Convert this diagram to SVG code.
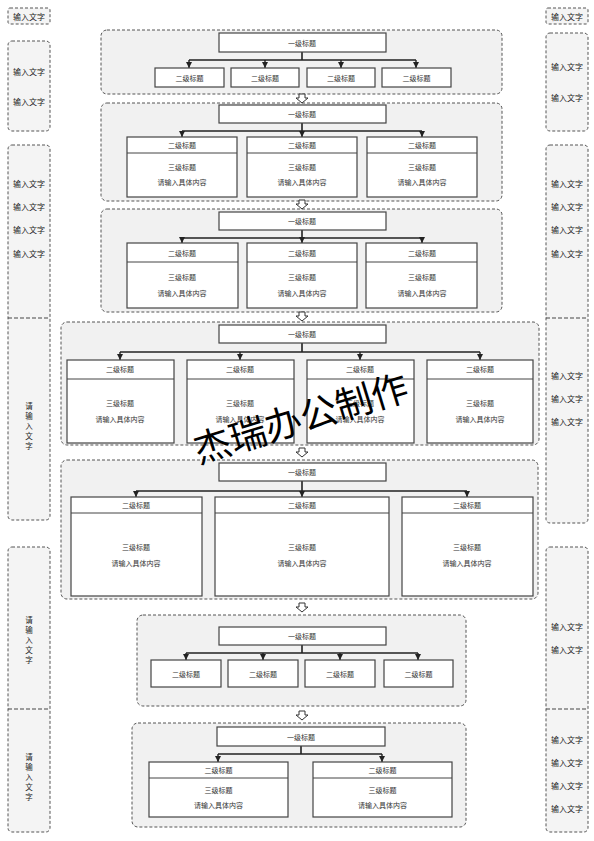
<svg xmlns="http://www.w3.org/2000/svg" width="594" height="841" viewBox="0 0 594 841">
<defs>
<style>
.bg{fill:#ffffff}
.side{fill:#f4f4f4;stroke:#555;stroke-width:1;stroke-dasharray:3,2}
.sep{fill:none;stroke:#444;stroke-width:1;stroke-dasharray:4,2}
.cont{fill:#f1f1f1;stroke:#555;stroke-width:1;stroke-dasharray:3,2}
.box{fill:#fff;stroke:#444;stroke-width:1.2}
.ln{fill:none;stroke:#444;stroke-width:1}
.con{fill:none;stroke:#222;stroke-width:1.6}
.arr{fill:none;stroke:#222;stroke-width:1.4;marker-end:url(#ah)}
.hol{fill:#fff;stroke:#333;stroke-width:1}
text{font-family:"Noto Sans CJK SC","Noto Sans",sans-serif;fill:#333;text-anchor:middle;dominant-baseline:central}
.t{font-size:7px}
.s{font-size:8px;fill:#222}
.v{font-size:7.5px;fill:#222}
.wm{font-size:37px;fill:#000;font-family:"Noto Sans CJK SC",sans-serif}
</style>
<marker id="ah" viewBox="0 0 6 6" refX="6" refY="3" markerWidth="6" markerHeight="6" markerUnits="userSpaceOnUse" orient="auto"><path d="M0,0 L6,3 L0,6 z" fill="#222"/></marker>
<path id="hollow" d="M-3,0 L3,0 L3,4 L6,4 L0,9 L-6,4 L-3,4 z"/>
</defs>
<rect class="bg" x="0" y="0" width="594" height="841"/>

<!-- Left side panels -->
<g id="left-small"><rect class="side" x="8" y="8" width="42" height="16" rx="2"/><text class="s" x="29" y="16">输入文字</text></g>
<g id="left-a"><rect class="side" x="8" y="41" width="42" height="90" rx="4"/><text class="s" x="29" y="71">输入文字</text><text class="s" x="29" y="101">输入文字</text></g>
<g id="left-b"><rect class="side" x="8" y="145" width="42" height="375" rx="4"/><line class="sep" x1="8" y1="318" x2="50" y2="318"/>
<text class="s" x="29" y="183">输入文字</text><text class="s" x="29" y="206">输入文字</text><text class="s" x="29" y="229">输入文字</text><text class="s" x="29" y="253">输入文字</text>
<text class="v"><tspan x="29" y="405">请</tspan><tspan x="29" y="415">输</tspan><tspan x="29" y="425">入</tspan><tspan x="29" y="435">文</tspan><tspan x="29" y="445">字</tspan></text></g>
<g id="left-d"><rect class="side" x="8" y="547" width="42" height="285" rx="4"/><line class="sep" x1="8" y1="709" x2="50" y2="709"/>
<text class="v"><tspan x="29" y="619">请</tspan><tspan x="29" y="629">输</tspan><tspan x="29" y="639">入</tspan><tspan x="29" y="649">文</tspan><tspan x="29" y="659">字</tspan></text>
<text class="v"><tspan x="29" y="756">请</tspan><tspan x="29" y="766">输</tspan><tspan x="29" y="776">入</tspan><tspan x="29" y="786">文</tspan><tspan x="29" y="796">字</tspan></text></g>

<!-- Right side panels -->
<g id="right-small"><rect class="side" x="546" y="8" width="42" height="16" rx="2"/><text class="s" x="567" y="16">输入文字</text></g>
<g id="right-a"><rect class="side" x="546" y="33" width="42" height="98" rx="4"/><text class="s" x="567" y="66">输入文字</text><text class="s" x="567" y="97">输入文字</text></g>
<g id="right-b"><rect class="side" x="546" y="145" width="42" height="378" rx="4"/><line class="sep" x1="546" y1="318" x2="588" y2="318"/>
<text class="s" x="567" y="183">输入文字</text><text class="s" x="567" y="206">输入文字</text><text class="s" x="567" y="229">输入文字</text><text class="s" x="567" y="253">输入文字</text>
<text class="s" x="567" y="375">输入文字</text><text class="s" x="567" y="398">输入文字</text><text class="s" x="567" y="421">输入文字</text></g>
<g id="right-d"><rect class="side" x="546" y="547" width="42" height="285" rx="4"/><line class="sep" x1="546" y1="709" x2="588" y2="709"/>
<text class="s" x="567" y="626">输入文字</text><text class="s" x="567" y="649">输入文字</text>
<text class="s" x="567" y="739">输入文字</text><text class="s" x="567" y="762">输入文字</text><text class="s" x="567" y="785">输入文字</text><text class="s" x="567" y="808">输入文字</text></g>

<!-- Containers -->
<g id="containers">
<rect class="cont" x="101" y="30" width="401" height="64" rx="6"/>
<rect class="cont" x="101" y="103" width="401" height="98" rx="6"/>
<rect class="cont" x="101" y="209" width="401" height="103" rx="6"/>
<rect class="cont" x="61" y="322" width="478" height="123" rx="6"/>
<rect class="cont" x="61" y="460" width="477" height="139" rx="6"/>
<rect class="cont" x="137" y="615" width="329" height="91" rx="6"/>
<rect class="cont" x="132" y="723" width="334" height="104" rx="6"/>
</g>

<!-- Connectors -->
<g id="connectors">
<path class="con" d="M302,52 V60 M189,60 H416"/>
<path class="arr" d="M189,60 V68"/><path class="arr" d="M265,60 V68"/><path class="arr" d="M341,60 V68"/><path class="arr" d="M416,60 V68"/>
<path class="con" d="M302,123 V131 M182,131 H422"/>
<path class="arr" d="M182,131 V137"/><path class="arr" d="M302,131 V137"/><path class="arr" d="M422,131 V137"/>
<path class="con" d="M302,230 V238 M182,238 H422"/>
<path class="arr" d="M182,238 V243"/><path class="arr" d="M302,238 V243"/><path class="arr" d="M422,238 V243"/>
<path class="con" d="M302,343 V352 M120,352 H480"/>
<path class="arr" d="M120,352 V360"/><path class="arr" d="M240,352 V360"/><path class="arr" d="M360,352 V360"/><path class="arr" d="M480,352 V360"/>
<path class="con" d="M302,481 V491 M136,491 H467"/>
<path class="arr" d="M136,491 V497"/><path class="arr" d="M302,491 V497"/><path class="arr" d="M467,491 V497"/>
<path class="con" d="M302,645 V653 M186,653 H418"/>
<path class="arr" d="M186,653 V660"/><path class="arr" d="M263,653 V660"/><path class="arr" d="M340,653 V660"/><path class="arr" d="M418,653 V660"/>
<path class="con" d="M301,746 V754 M218,754 H382"/>
<path class="arr" d="M218,754 V762"/><path class="arr" d="M382,754 V762"/>
<use href="#hollow" class="hol" x="302" y="94"/>
<use href="#hollow" class="hol" x="302" y="200"/>
<use href="#hollow" class="hol" x="302" y="312"/>
<use href="#hollow" class="hol" x="302" y="448"/>
<use href="#hollow" class="hol" x="302" y="603"/>
<use href="#hollow" class="hol" x="302" y="711"/>
</g>

<!-- Section 1 -->
<g id="s1-title"><rect class="box" x="219" y="33" width="167" height="19"/><text class="t" x="302" y="42.5">一级标题</text></g>
<g id="s1-b1"><rect class="box" x="155" y="68" width="69" height="19"/><text class="t" x="189.5" y="77.5">二级标题</text></g>
<g id="s1-b2"><rect class="box" x="231" y="68" width="68" height="19"/><text class="t" x="265" y="77.5">二级标题</text></g>
<g id="s1-b3"><rect class="box" x="307" y="68" width="68" height="19"/><text class="t" x="341" y="77.5">二级标题</text></g>
<g id="s1-b4"><rect class="box" x="382" y="68" width="69" height="19"/><text class="t" x="416.5" y="77.5">二级标题</text></g>

<!-- Section 2 -->
<g id="s2-title"><rect class="box" x="219" y="105" width="167" height="18"/><text class="t" x="302" y="114">一级标题</text></g>
<g id="s2-b1"><rect class="box" x="127" y="137" width="110" height="60"/><line class="ln" x1="127" y1="153" x2="237" y2="153"/><text class="t" x="182" y="145">二级标题</text><text class="t" x="182" y="167">三级标题</text><text class="t" x="182" y="182">请输入具体内容</text></g>
<g id="s2-b2"><rect class="box" x="247" y="137" width="110" height="60"/><line class="ln" x1="247" y1="153" x2="357" y2="153"/><text class="t" x="302" y="145">二级标题</text><text class="t" x="302" y="167">三级标题</text><text class="t" x="302" y="182">请输入具体内容</text></g>
<g id="s2-b3"><rect class="box" x="367" y="137" width="110" height="60"/><line class="ln" x1="367" y1="153" x2="477" y2="153"/><text class="t" x="422" y="145">二级标题</text><text class="t" x="422" y="167">三级标题</text><text class="t" x="422" y="182">请输入具体内容</text></g>

<!-- Section 3 -->
<g id="s3-title"><rect class="box" x="219" y="212" width="167" height="18"/><text class="t" x="302" y="221">一级标题</text></g>
<g id="s3-b1"><rect class="box" x="127" y="243" width="111" height="65"/><line class="ln" x1="127" y1="262" x2="238" y2="262"/><text class="t" x="182" y="253">二级标题</text><text class="t" x="182" y="277">三级标题</text><text class="t" x="182" y="293">请输入具体内容</text></g>
<g id="s3-b2"><rect class="box" x="247" y="243" width="110" height="65"/><line class="ln" x1="247" y1="262" x2="357" y2="262"/><text class="t" x="302" y="253">二级标题</text><text class="t" x="302" y="277">三级标题</text><text class="t" x="302" y="293">请输入具体内容</text></g>
<g id="s3-b3"><rect class="box" x="366" y="243" width="111" height="65"/><line class="ln" x1="366" y1="262" x2="477" y2="262"/><text class="t" x="422" y="253">二级标题</text><text class="t" x="422" y="277">三级标题</text><text class="t" x="422" y="293">请输入具体内容</text></g>

<!-- Section 4 -->
<g id="s4-title"><rect class="box" x="219" y="325" width="167" height="18"/><text class="t" x="302" y="334">一级标题</text></g>
<g id="s4-b1"><rect class="box" x="67" y="360" width="107" height="83"/><line class="ln" x1="67" y1="379" x2="174" y2="379"/><text class="t" x="120" y="369">二级标题</text><text class="t" x="120" y="403">三级标题</text><text class="t" x="120" y="419">请输入具体内容</text></g>
<g id="s4-b2"><rect class="box" x="187" y="360" width="107" height="83"/><line class="ln" x1="187" y1="379" x2="294" y2="379"/><text class="t" x="240" y="369">二级标题</text><text class="t" x="240" y="403">三级标题</text><text class="t" x="240" y="419">请输入具体内容</text></g>
<g id="s4-b3"><rect class="box" x="307" y="360" width="107" height="83"/><line class="ln" x1="307" y1="379" x2="414" y2="379"/><text class="t" x="360" y="369">二级标题</text><text class="t" x="360" y="403">三级标题</text><text class="t" x="360" y="419">请输入具体内容</text></g>
<g id="s4-b4"><rect class="box" x="427" y="360" width="106" height="83"/><line class="ln" x1="427" y1="379" x2="533" y2="379"/><text class="t" x="480" y="369">二级标题</text><text class="t" x="480" y="403">三级标题</text><text class="t" x="480" y="419">请输入具体内容</text></g>

<!-- Section 5 -->
<g id="s5-title"><rect class="box" x="219" y="463" width="167" height="18"/><text class="t" x="302" y="472">一级标题</text></g>
<g id="s5-b1"><rect class="box" x="71" y="497" width="131" height="99"/><line class="ln" x1="71" y1="513" x2="202" y2="513"/><text class="t" x="136" y="505">二级标题</text><text class="t" x="136" y="547">三级标题</text><text class="t" x="136" y="563">请输入具体内容</text></g>
<g id="s5-b2"><rect class="box" x="215" y="497" width="174" height="99"/><line class="ln" x1="215" y1="513" x2="389" y2="513"/><text class="t" x="302" y="505">二级标题</text><text class="t" x="302" y="547">三级标题</text><text class="t" x="302" y="563">请输入具体内容</text></g>
<g id="s5-b3"><rect class="box" x="402" y="497" width="131" height="99"/><line class="ln" x1="402" y1="513" x2="533" y2="513"/><text class="t" x="467" y="505">二级标题</text><text class="t" x="467" y="547">三级标题</text><text class="t" x="467" y="563">请输入具体内容</text></g>

<!-- Section 6 -->
<g id="s6-title"><rect class="box" x="219" y="627" width="167" height="18"/><text class="t" x="302" y="636">一级标题</text></g>
<g id="s6-b1"><rect class="box" x="151" y="660" width="70" height="27"/><text class="t" x="186" y="673.5">二级标题</text></g>
<g id="s6-b2"><rect class="box" x="228" y="660" width="70" height="27"/><text class="t" x="263" y="673.5">二级标题</text></g>
<g id="s6-b3"><rect class="box" x="305" y="660" width="70" height="27"/><text class="t" x="340" y="673.5">二级标题</text></g>
<g id="s6-b4"><rect class="box" x="384" y="660" width="69" height="27"/><text class="t" x="418.5" y="673.5">二级标题</text></g>

<!-- Section 7 -->
<g id="s7-title"><rect class="box" x="217" y="727" width="168" height="19"/><text class="t" x="301" y="736.5">一级标题</text></g>
<g id="s7-b1"><rect class="box" x="149" y="762" width="139" height="55"/><line class="ln" x1="149" y1="778" x2="288" y2="778"/><text class="t" x="218.5" y="770">二级标题</text><text class="t" x="218.5" y="790">三级标题</text><text class="t" x="218.5" y="805">请输入具体内容</text></g>
<g id="s7-b2"><rect class="box" x="313" y="762" width="139" height="55"/><line class="ln" x1="313" y1="778" x2="452" y2="778"/><text class="t" x="382.5" y="770">二级标题</text><text class="t" x="382.5" y="790">三级标题</text><text class="t" x="382.5" y="805">请输入具体内容</text></g>

<!-- Watermark -->
<text class="wm" x="300" y="416" transform="rotate(-17 300 416)">杰瑞办公制作</text>
</svg>
